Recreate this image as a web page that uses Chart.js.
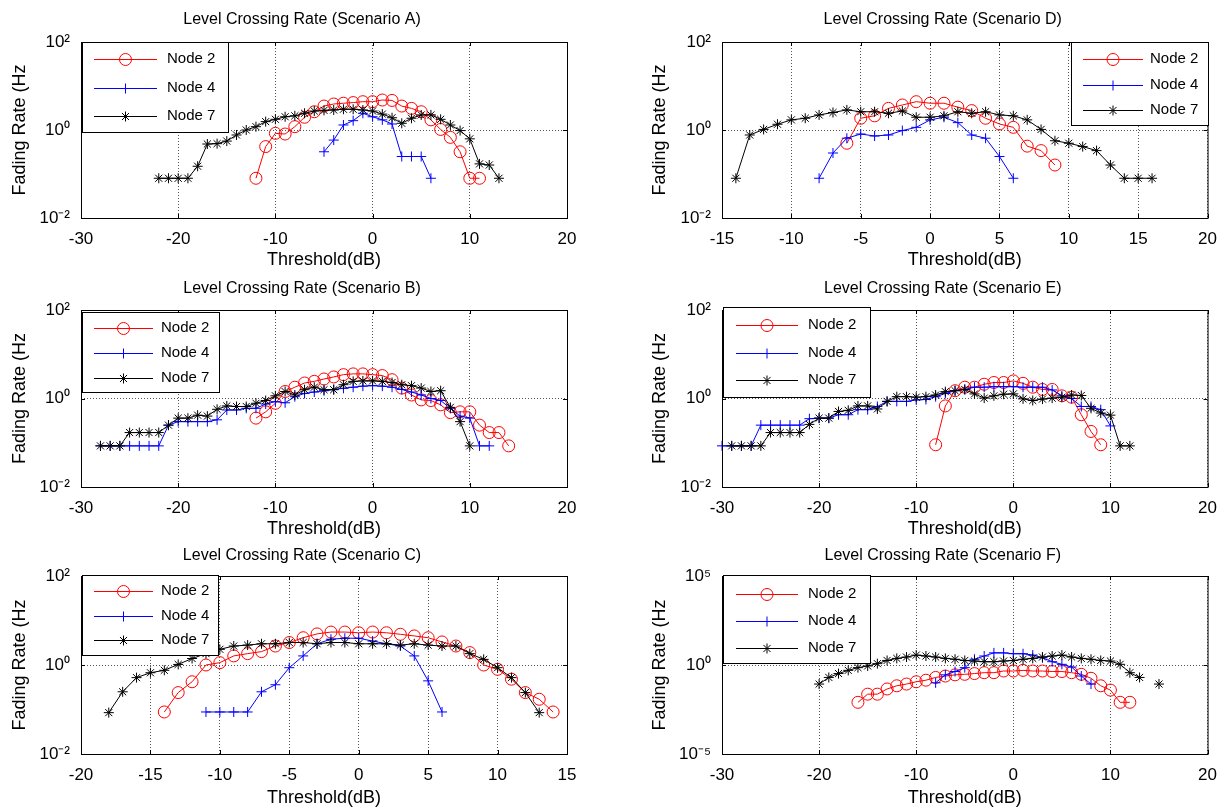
<!DOCTYPE html>
<html>
<head>
<meta charset="utf-8">
<title>Level Crossing Rate</title>
<script src="https://cdn.jsdelivr.net/npm/chart.js@4.4.0/dist/chart.umd.min.js"></script>
<style>
  body { margin: 0; background: #fff; overflow: hidden; }
  #wrap { position: relative; width: 1228px; height: 807px; }
  canvas { position: absolute; }
</style>
</head>
<body>
<div id="wrap">
  <canvas id="chartA" width="614" height="269" style="left:0px;top:0px"></canvas>
  <canvas id="chartD" width="614" height="269" style="left:614px;top:0px"></canvas>
  <canvas id="chartB" width="614" height="269" style="left:0px;top:269px"></canvas>
  <canvas id="chartE" width="614" height="269" style="left:614px;top:269px"></canvas>
  <canvas id="chartC" width="614" height="269" style="left:0px;top:538px"></canvas>
  <canvas id="chartF" width="614" height="269" style="left:614px;top:538px"></canvas>
</div>
<script>
// legend names, same for every panel
const nodeNames = ['Node 2', 'Node 4', 'Node 7'];

// Scenario A
const thrA = [-22, -21, -20, -19, -18, -17, -16, -15, -14, -13, -12, -11, -10, -9, -8, -7, -6, -5, -4, -3, -2, -1, 0, 1, 2, 3, 4, 5, 6, 7, 8, 9, 10, 11, 12, 13];
const a2 = [null, null, null, null, null, null, null, null, null, null, 0.08, 0.42, 0.84, 0.81, 1.19, 1.95, 2.6, 3.5, 3.9, 4.06, 4.2, 4.4, 4.4, 4.8, 4.7, 3.5, 3.1, 2.6, 1.7, 1.03, 0.68, 0.32, 0.08, 0.08, null, null];
const a4 = [null, null, null, null, null, null, null, null, null, null, null, null, null, null, null, null, null, 0.32, 0.59, 1.3, 1.63, 2.4, 2.0, 1.7, 1.37, 0.25, 0.25, 0.25, 0.08, null, null, null, null, null, null, null];
const a7 = [0.08, 0.08, 0.08, 0.08, 0.15, 0.48, 0.49, 0.56, 0.77, 1.0, 1.19, 1.55, 1.75, 2.0, 2.1, 2.4, 2.7, 2.8, 2.85, 2.96, 2.96, 2.85, 2.7, 2.3, 1.9, 1.42, 1.85, 2.2, 2.2, 1.75, 1.3, 0.97, 0.63, 0.17, 0.16, 0.08];

// Scenario D
const thrD = [-14, -13, -12, -11, -10, -9, -8, -7, -6, -5, -4, -3, -2, -1, 0, 1, 2, 3, 4, 5, 6, 7, 8, 9, 10, 11, 12, 13, 14, 15, 16];
const d2 = [null, null, null, null, null, null, null, null, 0.5, 1.85, 2.1, 3.1, 3.7, 4.4, 4.06, 4.06, 3.3, 2.76, 1.85, 1.37, 1.15, 0.43, 0.34, 0.16, null, null, null, null, null, null, null];
const d4 = [null, null, null, null, null, null, 0.08, 0.30, 0.65, 0.81, 0.73, 0.77, 0.97, 1.15, 1.7, 1.95, 1.47, 0.77, 0.65, 0.25, 0.08, null, null, null, null, null, null, null, null, null, null];
const d7 = [0.08, 0.77, 1.03, 1.35, 1.7, 1.85, 2.2, 2.5, 2.86, 2.6, 2.6, 2.4, 2.7, 1.95, 1.95, 2.1, 2.6, 2.4, 2.6, 2.2, 2.1, 1.7, 1.03, 0.57, 0.5, 0.42, 0.34, 0.16, 0.08, 0.08, 0.08];

// Scenario B
const thrB = [-28, -27, -26, -25, -24, -23, -22, -21, -20, -19, -18, -17, -16, -15, -14, -13, -12, -11, -10, -9, -8, -7, -6, -5, -4, -3, -2, -1, 0, 1, 2, 3, 4, 5, 6, 7, 8, 9, 10, 11, 12, 13, 14];
const b2 = [null, null, null, null, null, null, null, null, null, null, null, null, null, null, null, null, 0.36, 0.5, 0.78, 1.44, 1.8, 2.24, 2.44, 2.76, 3.07, 3.46, 3.6, 3.6, 3.46, 3.3, 2.66, 1.72, 1.2, 0.93, 0.9, 0.72, 0.48, 0.5, 0.5, 0.25, 0.17, 0.17, 0.085];
const b4 = [0.085, 0.085, 0.085, 0.085, 0.085, 0.085, 0.085, 0.25, 0.30, 0.30, 0.30, 0.30, 0.33, 0.55, 0.55, 0.6, 0.6, 0.75, 0.85, 0.8, 1.1, 1.3, 1.4, 1.5, 1.6, 1.7, 1.8, 1.9, 1.95, 1.9, 1.8, 1.6, 1.4, 1.2, 1.0, 0.9, 0.6, 0.4, 0.36, 0.085, 0.085, null, null];
const b7 = [0.085, 0.085, 0.085, 0.17, 0.17, 0.17, 0.17, 0.25, 0.36, 0.36, 0.42, 0.40, 0.57, 0.68, 0.66, 0.66, 0.78, 0.9, 1.15, 1.44, 1.2, 1.58, 1.8, 1.58, 1.58, 2.05, 2.44, 2.5, 2.5, 2.44, 2.3, 2.05, 1.95, 1.72, 1.44, 1.5, 0.63, 0.30, 0.085, null, null, null, null];

// Scenario E
const thrE = [-30, -29, -28, -27, -26, -25, -24, -23, -22, -21, -20, -19, -18, -17, -16, -15, -14, -13, -12, -11, -10, -9, -8, -7, -6, -5, -4, -3, -2, -1, 0, 1, 2, 3, 4, 5, 6, 7, 8, 9, 10, 11, 12];
const e2 = [null, null, null, null, null, null, null, null, null, null, null, null, null, null, null, null, null, null, null, null, null, null, 0.09, 0.68, 1.5, 1.8, 1.8, 2.1, 2.3, 2.3, 2.5, 2.2, 1.8, 1.6, 1.6, 1.15, 1.07, 0.43, 0.18, 0.09, null, null, null];
const e4 = [0.085, 0.085, 0.085, 0.085, 0.25, 0.25, 0.25, 0.25, 0.25, 0.35, 0.36, 0.36, 0.43, 0.43, 0.56, 0.56, 0.66, 0.86, 0.86, 0.86, 0.93, 0.95, 1.1, 1.3, 1.5, 1.6, 1.8, 1.8, 1.85, 1.85, 1.85, 1.8, 1.8, 1.8, 1.56, 1.15, 1.0, 0.66, 0.66, 0.56, 0.24, null, null];
const e7 = [null, 0.085, 0.085, 0.085, 0.085, 0.17, 0.17, 0.17, 0.17, 0.26, 0.36, 0.36, 0.51, 0.54, 0.68, 0.68, 0.58, 0.86, 1.1, 1.1, 1.07, 1.1, 1.2, 1.43, 1.5, 1.6, 1.27, 1.02, 1.15, 1.25, 1.27, 0.98, 0.9, 0.97, 1.02, 1.07, 1.2, 1.17, 0.6, 0.47, 0.42, 0.085, 0.085];

// Scenario C
const thrC = [-18, -17, -16, -15, -14, -13, -12, -11, -10, -9, -8, -7, -6, -5, -4, -3, -2, -1, 0, 1, 2, 3, 4, 5, 6, 7, 8, 9, 10, 11, 12, 13, 14];
const c2 = [null, null, null, null, 0.088, 0.24, 0.42, 1.0, 1.13, 1.6, 1.8, 2.0, 2.67, 3.2, 4.1, 5.0, 5.5, 5.5, 5.3, 5.5, 5.3, 4.9, 4.5, 4.1, 3.3, 2.67, 1.9, 1.0, 0.8, 0.48, 0.24, 0.17, 0.088];
const c4 = [null, null, null, null, null, null, null, 0.088, 0.088, 0.088, 0.088, 0.25, 0.36, 0.87, 1.6, 3.0, 3.8, 4.0, 4.0, 3.45, 3.0, 2.67, 1.6, 0.44, 0.088, null, null, null, null, null, null, null, null];
const c7 = [0.085, 0.25, 0.52, 0.67, 0.76, 1.03, 1.4, 1.8, 2.25, 2.67, 2.8, 3.0, 3.0, 3.2, 3.2, 3.0, 3.2, 3.2, 3.0, 3.0, 3.0, 2.8, 3.0, 2.8, 2.67, 2.67, 1.8, 1.34, 0.87, 0.52, 0.24, 0.085, null];

// Scenario F
const thrF = [-20, -19, -18, -17, -16, -15, -14, -13, -12, -11, -10, -9, -8, -7, -6, -5, -4, -3, -2, -1, 0, 1, 2, 3, 4, 5, 6, 7, 8, 9, 10, 11, 12, 13, 14, 15];
const f2 = [null, null, null, null, 0.008, 0.023, 0.023, 0.045, 0.068, 0.085, 0.114, 0.14, 0.2, 0.24, 0.28, 0.30, 0.33, 0.37, 0.37, 0.46, 0.46, 0.5, 0.46, 0.46, 0.43, 0.43, 0.37, 0.30, 0.18, 0.068, 0.039, 0.008, 0.008, null, null, null];
const f4 = [null, null, null, null, null, null, null, null, null, null, null, null, 0.1, 0.28, 0.43, 0.71, 2.1, 3.2, 4.8, 4.8, 4.3, 4.3, 3.6, 2.55, 1.53, 1.09, 0.77, 0.24, 0.085, null, null, null, null, null, null, null];
const f7 = [0.085, 0.2, 0.33, 0.5, 0.71, 0.88, 1.19, 1.8, 2.35, 2.8, 3.6, 3.2, 2.8, 2.35, 2.1, 1.8, 1.67, 1.53, 1.53, 1.67, 1.8, 2.1, 2.35, 2.8, 3.2, 3.6, 2.8, 2.35, 2.1, 1.8, 1.67, 1.09, 0.37, 0.2, null, 0.085];

// axis tick labels
const xTicksWide = [-30, -20, -10, 0, 10, 20];
const xTicksD = [-15, -10, -5, 0, 5, 10, 15, 20];
const xTicksC = [-20, -15, -10, -5, 0, 5, 10, 15];
const yTicksNarrow = [0.01, 1, 100];
const yTicksF = [0.00001, 1, 100000];

const FONT = '"Liberation Sans", Arial, Helvetica, sans-serif';
Chart.defaults.font.family = FONT;
Chart.defaults.color = '#000';

const nodeStyles = [
    { color: '#ff0000', pointStyle: 'circle', radius: 6 },
    { color: '#0000ff', pointStyle: 'cross', radius: 5 },
    { color: '#000000', pointStyle: 'star', radius: 5 }
];

const SUP = { '-': '\u207B', '0': '\u2070', '1': '\u00B9', '2': '\u00B2', '3': '\u00B3', '4': '\u2074', '5': '\u2075' };
function powLabel(v) {
    const e = Math.round(Math.log10(v));
    return '10' + String(e).split('').map(c => SUP[c]).join('');
}

// box, inner ticks, title and legend drawn the way MATLAB does it
const matlabAxes = {
    id: 'matlabAxes',
    afterDatasetsDraw(chart, args, opts) {
        const { ctx, chartArea: a, scales: { x, y } } = chart;
        ctx.save();
        ctx.strokeStyle = '#000';
        ctx.lineWidth = 1;
        ctx.setLineDash([]);
        ctx.strokeRect(a.left + 0.5, a.top + 0.5, a.right - a.left, a.bottom - a.top);

        ctx.beginPath();
        x.ticks.forEach(t => {
            const px = Math.round(x.getPixelForValue(t.value)) + 0.5;
            ctx.moveTo(px, a.bottom); ctx.lineTo(px, a.bottom - 4);
            ctx.moveTo(px, a.top); ctx.lineTo(px, a.top + 4);
        });
        y.ticks.forEach(t => {
            const py = Math.round(y.getPixelForValue(t.value)) + 0.5;
            ctx.moveTo(a.left, py); ctx.lineTo(a.left + 4, py);
            ctx.moveTo(a.right, py); ctx.lineTo(a.right - 4, py);
        });
        ctx.stroke();

        // title
        ctx.fillStyle = '#000';
        ctx.font = '16px ' + FONT;
        ctx.textAlign = 'center';
        ctx.textBaseline = 'middle';
        ctx.fillText(opts.title, (a.left + a.right) / 2 + opts.titleShift, a.top - opts.titleGap);

        // legend
        const lg = opts.legend;
        ctx.fillStyle = '#fff';
        ctx.fillRect(lg.x, lg.y, lg.w, lg.h);
        ctx.strokeStyle = '#000';
        ctx.strokeRect(lg.x + 0.5, lg.y + 0.5, lg.w, lg.h);
        ctx.font = '15px ' + FONT;
        ctx.textAlign = 'left';
        chart.data.datasets.forEach((ds, i) => {
            const yy = lg.rows[i];
            const col = nodeStyles[i].color;
            ctx.strokeStyle = col;
            ctx.lineWidth = 1;
            ctx.beginPath();
            ctx.moveTo(lg.line[0], yy + 0.5);
            ctx.lineTo(lg.line[1], yy + 0.5);
            ctx.stroke();
            ctx.strokeStyle = col;
            ctx.fillStyle = 'rgba(0,0,0,0)';
            Chart.helpers.drawPoint(ctx, { pointStyle: nodeStyles[i].pointStyle, radius: nodeStyles[i].radius, borderWidth: 1, rotation: 0 },
                (lg.line[0] + lg.line[1]) / 2, yy + 0.5);
            ctx.fillStyle = '#000';
            ctx.fillText(ds.label, lg.text, yy);
        });
        ctx.restore();
    }
};

const panels = [
    { id: 'chartA', title: 'Level Crossing Rate (Scenario A)', thr: thrA, series: [a2, a4, a7],
      xMin: -30, xMax: 20, xTicks: xTicksWide, yMin: 0.01, yMax: 100, yTicks: yTicksNarrow,
      padL: 0, padR: 47, top: 42, yWidth: 81, xHeight: 51, titleGap: 22,
      legend: { x: 82, y: 42, w: 146, h: 90, rows: [59, 88, 116], line: [94, 157], text: 167 } },
    { id: 'chartD', title: 'Level Crossing Rate (Scenario D)', thr: thrD, series: [d2, d4, d7],
      xMin: -15, xMax: 20, xTicks: xTicksD, yMin: 0.01, yMax: 100, yTicks: yTicksNarrow,
      padL: 26, padR: 20, top: 42, yWidth: 82, xHeight: 51, titleGap: 22,
      legend: { x: 457, y: 42, w: 137, h: 83, rows: [59, 85, 110], line: [469, 529], text: 536 } },
    { id: 'chartB', title: 'Level Crossing Rate (Scenario B)', thr: thrB, series: [b2, b4, b7],
      xMin: -30, xMax: 20, xTicks: xTicksWide, yMin: 0.01, yMax: 100, yTicks: yTicksNarrow,
      padL: 0, padR: 47, top: 41, yWidth: 81, xHeight: 51, titleGap: 21,
      legend: { x: 82, y: 43, w: 137, h: 80, rows: [59, 84, 109], line: [94, 153], text: 161 } },
    { id: 'chartE', title: 'Level Crossing Rate (Scenario E)', thr: thrE, series: [e2, e4, e7],
      xMin: -30, xMax: 20, xTicks: xTicksWide, yMin: 0.01, yMax: 100, yTicks: yTicksNarrow,
      padL: 26, padR: 20, top: 41, yWidth: 82, xHeight: 51, titleGap: 21,
      legend: { x: 109, y: 38, w: 147, h: 90, rows: [56, 84, 111], line: [122, 184], text: 194 } },
    { id: 'chartC', title: 'Level Crossing Rate (Scenario C)', thr: thrC, series: [c2, c4, c7],
      xMin: -20, xMax: 15, xTicks: xTicksC, yMin: 0.01, yMax: 100, yTicks: yTicksNarrow,
      padL: 0, padR: 47, top: 38, yWidth: 81, xHeight: 53, titleGap: 20,
      legend: { x: 82, y: 37, w: 136, h: 80, rows: [53, 78, 102], line: [94, 153], text: 161 } },
    { id: 'chartF', title: 'Level Crossing Rate (Scenario F)', thr: thrF, series: [f2, f4, f7],
      xMin: -30, xMax: 20, xTicks: xTicksWide, yMin: 0.00001, yMax: 100000, yTicks: yTicksF,
      padL: 26, padR: 20, top: 38, yWidth: 82, xHeight: 53, titleGap: 20,
      legend: { x: 109, y: 37, w: 147, h: 88, rows: [56, 83, 110], line: [122, 184], text: 194 } }
];

function renderPanel(p) {
    const datasets = p.series.map((vals, i) => {
        const st = nodeStyles[i];
        return {
            label: nodeNames[i],
            data: p.thr.map((t, k) => ({ x: t, y: vals[k] })),
            borderColor: st.color,
            backgroundColor: st.color,
            borderWidth: 1,
            pointStyle: st.pointStyle,
            pointRadius: st.radius,
            pointBorderColor: st.color,
            pointBackgroundColor: 'rgba(0,0,0,0)',
            pointBorderWidth: 1,
            tension: 0,
            spanGaps: false,
            fill: false,
            clip: false,
            order: 2 - i
        };
    });

    const gridOpts = { color: '#555', lineWidth: 1, drawTicks: false, borderDash: [1, 2] };

    new Chart(document.getElementById(p.id), {
        type: 'line',
        data: { datasets: datasets },
        plugins: [matlabAxes],
        options: {
            responsive: false,
            animation: false,
            events: [],
            layout: { padding: { left: p.padL, right: p.padR, top: p.top, bottom: 0 } },
            plugins: {
                legend: { display: false },
                tooltip: { enabled: false },
                title: { display: false },
                matlabAxes: { title: p.title, titleShift: -22, titleGap: p.titleGap, legend: p.legend }
            },
            scales: {
                x: {
                    type: 'linear',
                    min: p.xMin,
                    max: p.xMax,
                    afterBuildTicks: s => { s.ticks = p.xTicks.map(v => ({ value: v })); },
                    afterFit: s => { s.height = p.xHeight; },
                    ticks: { font: { size: 17 }, color: '#000', padding: 11, maxRotation: 0, autoSkip: false,
                             callback: v => String(v) },
                    grid: gridOpts,
                    border: { display: false, dash: [1, 2] },
                    title: { display: true, text: 'Threshold(dB)', font: { size: 18, lineHeight: 1 }, color: '#000',
                             padding: { top: 0, bottom: 0 } }
                },
                y: {
                    type: 'logarithmic',
                    min: p.yMin,
                    max: p.yMax,
                    afterBuildTicks: s => { s.ticks = p.yTicks.map(v => ({ value: v })); },
                    afterFit: s => { s.width = p.yWidth; },
                    ticks: { font: { size: 17 }, color: '#000', padding: 11, autoSkip: false,
                             callback: v => powLabel(v) },
                    grid: gridOpts,
                    border: { display: false, dash: [1, 2] },
                    title: { display: true, text: 'Fading Rate (Hz', font: { size: 18 }, color: '#000',
                             padding: { top: 9, bottom: 0 } }
                }
            }
        }
    });
}

panels.forEach(renderPanel);
</script>
</body>
</html>
